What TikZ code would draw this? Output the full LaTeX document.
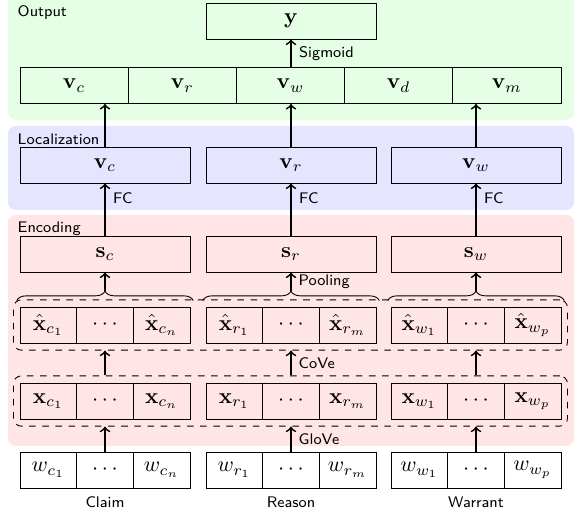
\documentclass[tikz,border=0pt]{standalone}
\usetikzlibrary{decorations.pathreplacing,fit}
\begin{document}
\begin{tikzpicture}
[x=0.456pt,y=-0.456pt,
  cellDecorate/.style={shape=rectangle,draw,inner sep=0pt,minimum height=16.4pt,minimum width=25.84pt},
  blockDecorate/.style={cellDecorate,minimum width=77.5pt},
  outDecorate/.style={cellDecorate,minimum width=49.34pt,fill=green!10},
  layerDecorate/.style={rounded corners=3.5pt},
  groupDecorate/.style={draw,dashed,rounded corners=3.5pt,inner xsep=2.74pt,inner ysep=3.05pt},
  braceDecorate/.style={decorate,decoration={brace,amplitude=4.3pt}},
  arrowDecorate/.style={->,thick},
  textDecorate/.style={font=\sffamily\scriptsize}]
\useasboundingbox (0,0) rectangle (575,518);
%% layers
\fill[green!10,layerDecorate] (8,-10) rectangle (574,120);
\fill[blue!10,layerDecorate] (8,126) rectangle (574,210);
\fill[red!10,layerDecorate] (8,215) rectangle (574,446);
\node (output) [anchor=north west,textDecorate] at (10,-2) {Output};
\node (localization) [anchor=north west,textDecorate] at (10,126) {Localization};
\node (encoding) [anchor=north west,textDecorate] at (10,214) {Encoding};
%% output layer
\node (y) at (291,21) [blockDecorate,fill=green!10] {$\mathbf{y}$};
\foreach \i/\sub in {0/c, 1/r, 2/w, 3/d, 4/m}
{
  \node (v\sub) at (74.1+108.2*\i,85.5) [outDecorate] {$\mathbf{v}_\sub$};
}
\draw[arrowDecorate] (y.south |- vw.north) -- node[right,textDecorate] {Sigmoid} (y.south);
%% claim, reason and warrant columns
\foreach \g/\x/\idx/\word in {c/105/n/Claim, r/291/m/Reason, w/476/p/Warrant}
{
  \node (l\g) at (\x,165) [blockDecorate,fill=blue!10] {$\mathbf{v}_\g$};
  \node (s\g) at (\x,254) [blockDecorate,fill=red!10] {$\mathbf{s}_\g$};
  \node (h\g1) at (\x-56.67,325) [cellDecorate,fill=red!10] {$\hat{\mathbf{x}}_{\g_1}$};
  \node (h\g2) at (\x,325) [cellDecorate,fill=red!10] {$\cdots$};
  \node (h\g3) at (\x+56.67,325) [cellDecorate,fill=red!10] {$\hat{\mathbf{x}}_{\g_\idx}$};
  \node (x\g1) at (\x-56.67,401) [cellDecorate,fill=red!10] {$\mathbf{x}_{\g_1}$};
  \node (x\g2) at (\x,401) [cellDecorate,fill=red!10] {$\cdots$};
  \node (x\g3) at (\x+56.67,401) [cellDecorate,fill=red!10] {$\mathbf{x}_{\g_\idx}$};
  \node (w\g1) at (\x-56.67,470) [cellDecorate,fill=white] {$w_{\g_1}$};
  \node (w\g2) at (\x,470) [cellDecorate,fill=white] {$\cdots$};
  \node (w\g3) at (\x+56.67,470) [cellDecorate,fill=white] {$w_{\g_\idx}$};
  \node (t\g) at (\x,502) [textDecorate] {\word};
}
%% dashed groups
\node (hgroup) [groupDecorate,fit=(hc1)(hw3)] {};
\node (xgroup) [groupDecorate,fit=(xc1)(xw3)] {};
%% arrows
\foreach \g/\dest in {c/c, r/w, w/m}
{
  \draw[arrowDecorate] (w\g2.north) -- (w\g2.north |- xgroup.south);
  \draw[arrowDecorate] (x\g2.north |- xgroup.north) -- (x\g2.north |- hgroup.south);
  \draw[braceDecorate] ([shift={(-1.3pt,2.74pt)}]h\g1.north west) -- ([shift={(1.3pt,2.74pt)}]h\g3.north east);
  \coordinate (tip\g) at ([yshift=7.04pt]h\g2.north);
  \draw[arrowDecorate] (tip\g) -- (s\g.south);
  \draw[arrowDecorate] (s\g.north) -- node[pos=0.72,right,textDecorate] {FC} (l\g.south);
  \draw[arrowDecorate] (l\g.north) -- (l\g.north |- v\dest.south);
}
\path (tipr) -- node[right,textDecorate] {Pooling} (sr.south);
\path (xr2.north |- xgroup.north) -- node[right,textDecorate] {CoVe} (xr2.north |- hgroup.south);
\path (wr2.north) -- node[right,textDecorate] {GloVe} (wr2.north |- xgroup.south);
\end{tikzpicture}
\end{document}
